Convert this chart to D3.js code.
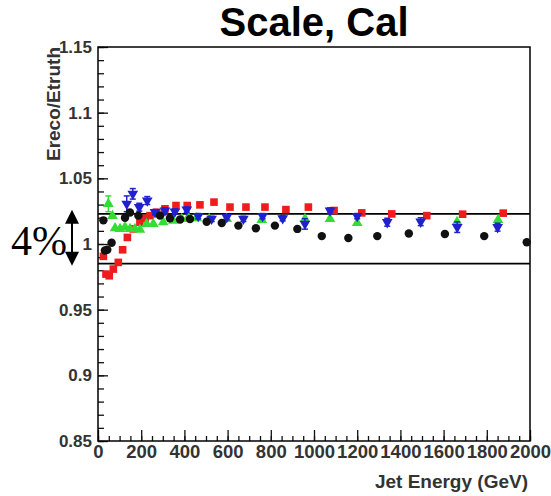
<!DOCTYPE html>
<html lang="en">
<head>
  <meta charset="UTF-8">
  <title>Scale, Cal</title>
  <script src="https://d3js.org/d3.v7.min.js"></script>
  <style>
    body, html {
      margin: 0;
      padding: 0;
      background: #fff;
    }
    svg {
      display: block;
    }
    .tick text {
      font-family: "Liberation Sans", Arial, sans-serif;
      font-size: 17px;
      font-weight: bold;
      fill: #333;
    }
    .x-axis .tick text {
      font-size: 18.5px;
    }
    .axis-title {
      font-family: "Liberation Sans", Arial, sans-serif;
      font-size: 19px;
      font-weight: bold;
      fill: #333;
    }
    .title {
      font-family: "Liberation Sans", Arial, sans-serif;
      font-size: 40px;
      font-weight: bold;
      fill: #000;
    }
    .note {
      font-family: "Liberation Serif", "Times New Roman", serif;
      font-size: 42px;
      fill: #000;
    }
  </style>
</head>
<body>
  <svg width="551" height="496"></svg>

  <script>
    // black circles
    const blackE = [25, 32, 43, 63, 125, 148, 187, 287, 333, 380, 426, 503, 573, 650, 731, 819, 923, 1036, 1159, 1293, 1439, 1606, 1788, 1985];
    const blackR = [1.018, 0.995, 0.9956, 1.001, 1.020, 1.024, 1.0216, 1.0216, 1.0196, 1.0186, 1.019, 1.017, 1.016, 1.014, 1.012, 1.014, 1.0115, 1.006, 1.0046, 1.006, 1.008, 1.0076, 1.006, 1.0013];

    // red squares
    const redE = [25, 37, 52, 71, 94, 114, 136, 163, 194, 218, 241, 272, 310, 361, 413, 472, 537, 611, 685, 773, 870, 974, 1093, 1221, 1360, 1522, 1688, 1876];
    const redR = [0.9906, 0.9771, 0.9758, 0.9809, 0.986, 0.9956, 1.005, 1.0115, 1.0166, 1.0196, 1.0216, 1.0242, 1.0268, 1.0293, 1.0293, 1.0298, 1.0319, 1.0281, 1.0281, 1.0281, 1.0262, 1.0281, 1.0255, 1.0237, 1.0229, 1.0216, 1.0227, 1.0235];

    // green triangles (up)
    const greenE = [48, 67, 79, 102, 125, 148, 171, 194, 225, 256, 302, 349, 388, 418, 457, 515, 596, 758, 958, 1074, 1200, 1662, 1852];
    const greenR = [1.0306, 1.0214, 1.012, 1.0115, 1.0128, 1.0115, 1.0115, 1.0109, 1.0153, 1.0153, 1.0166, 1.0178, 1.0191, 1.0204, 1.0196, 1.0191, 1.0191, 1.0183, 1.0191, 1.0191, 1.016, 1.0168, 1.0183];
    const greenErr = [0.006, 0, 0, 0, 0, 0, 0, 0, 0, 0, 0, 0, 0, 0, 0, 0, 0, 0, 0, 0, 0, 0, 0];

    // blue triangles (down)
    const blueE = [133, 161, 191, 228, 264, 310, 356, 411, 464, 526, 596, 673, 762, 855, 958, 1074, 1200, 1339, 1494, 1663, 1850];
    const blueR = [1.0306, 1.0382, 1.028, 1.0331, 1.0242, 1.0255, 1.0247, 1.0262, 1.0212, 1.0191, 1.0204, 1.0191, 1.0212, 1.0196, 1.0153, 1.0255, 1.0212, 1.0166, 1.017, 1.0128, 1.0128];
    const blueErr = [0.006, 0.004, 0.003, 0.003, 0.002, 0.002, 0.002, 0.002, 0.002, 0.002, 0.002, 0.002, 0.002, 0.002, 0.004, 0.002, 0.002, 0.003, 0.003, 0.004, 0.003];

    // the band lines
    const bandLines = [1.023, 0.985];

    const xTicks = [0, 200, 400, 600, 800, 1000, 1200, 1400, 1600, 1800, 2000];
    const yTicks = [0.85, 0.9, 0.95, 1, 1.05, 1.1, 1.15];

    const plotL = 98, plotR = 530, plotT = 47, plotB = 441;

    const svg = d3.select("svg");

    const x = d3.scaleLinear().domain([0, 2000]).range([plotL, plotR]);
    const y = d3.scaleLinear().domain([0.85, 1.15]).range([plotB, plotT]);

    // title
    svg.append("text")
      .attr("class", "title")
      .attr("x", 314)
      .attr("y", 36)
      .attr("text-anchor", "middle")
      .text("Scale, Cal");

    // minor ticks
    svg.append("g")
      .attr("transform", `translate(0,${plotB})`)
      .call(d3.axisBottom(x).tickValues(d3.range(0, 2001, 50)).tickSize(-5).tickFormat(""))
      .call(g => g.select(".domain").remove());
    svg.append("g")
      .attr("transform", `translate(${plotL},0)`)
      .call(d3.axisLeft(y).tickValues(d3.range(0, 31).map(i => 0.85 + i * 0.01)).tickSize(-6).tickFormat(""))
      .call(g => g.select(".domain").remove());

    // major ticks + labels
    svg.append("g")
      .attr("class", "x-axis")
      .attr("transform", `translate(0,${plotB})`)
      .call(d3.axisBottom(x).tickValues(xTicks).tickSize(-11).tickPadding(4).tickFormat(d3.format("d")))
      .call(g => g.select(".domain").remove());
    svg.append("g")
      .attr("transform", `translate(${plotL},0)`)
      .call(d3.axisLeft(y).tickValues(yTicks).tickSize(-10).tickPadding(6).tickFormat(d => String(+d.toFixed(2))))
      .call(g => g.select(".domain").remove());

    svg.selectAll(".tick line").attr("stroke", "#111").attr("stroke-width", 1.3);

    // frame
    svg.append("rect")
      .attr("x", plotL)
      .attr("y", plotT)
      .attr("width", plotR - plotL)
      .attr("height", plotB - plotT)
      .attr("fill", "none")
      .attr("stroke", "#000")
      .attr("stroke-width", 1.5);

    // axis titles
    svg.append("text")
      .attr("class", "axis-title")
      .attr("x", 528)
      .attr("y", 488)
      .attr("text-anchor", "end")
      .text("Jet Energy (GeV)");

    svg.append("text")
      .attr("class", "axis-title")
      .attr("transform", `translate(60,${plotT}) rotate(-90)`)
      .attr("text-anchor", "end")
      .text("Ereco/Etruth");

    // band lines
    svg.selectAll(".band")
      .data(bandLines)
      .enter().append("line")
      .attr("class", "band")
      .attr("x1", plotL)
      .attr("x2", plotR)
      .attr("y1", d => y(d))
      .attr("y2", d => y(d))
      .attr("stroke", "#000")
      .attr("stroke-width", 1.8);

    // series
    function drawSeries(es, rs, errs, symbolType, size, rot, color) {
      const pts = es.map((e, i) => ({ e: e, r: rs[i], err: errs ? errs[i] : 0 }));
      const g = svg.append("g");
      const withErr = pts.filter(d => d.err > 0);
      g.selectAll(".err")
        .data(withErr)
        .enter().append("line")
        .attr("x1", d => x(d.e))
        .attr("x2", d => x(d.e))
        .attr("y1", d => y(d.r - d.err))
        .attr("y2", d => y(d.r + d.err))
        .attr("stroke", color)
        .attr("stroke-width", 1.5);
      g.selectAll(".cap")
        .data(withErr.flatMap(d => [d.r - d.err, d.r + d.err].map(v => ({ e: d.e, v: v }))))
        .enter().append("line")
        .attr("x1", d => x(d.e) - 3)
        .attr("x2", d => x(d.e) + 3)
        .attr("y1", d => y(d.v))
        .attr("y2", d => y(d.v))
        .attr("stroke", color)
        .attr("stroke-width", 1.5);
      g.selectAll(".pt")
        .data(pts)
        .enter().append("path")
        .attr("d", d3.symbol().type(symbolType).size(size))
        .attr("transform", d => `translate(${x(d.e)},${y(d.r)}) rotate(${rot})`)
        .attr("fill", color);
    }

    drawSeries(redE, redR, null, d3.symbolSquare, 58, 0, "#ee1c1c");
    drawSeries(greenE, greenR, greenErr, d3.symbolTriangle, 50, 0, "#33dd33");
    drawSeries(blueE, blueR, blueErr, d3.symbolTriangle, 50, 180, "#2020cc");
    drawSeries(blackE, blackR, null, d3.symbolCircle, 56, 0, "#111");

    // 4% annotation
    svg.append("text")
      .attr("class", "note")
      .attr("x", 11)
      .attr("y", 255)
      .text("4%");

    const ax = 72, ay1 = y(bandLines[0]) - 4, ay2 = y(bandLines[1]) + 2;
    svg.append("line")
      .attr("x1", ax).attr("x2", ax)
      .attr("y1", ay1 + 10).attr("y2", ay2 - 10)
      .attr("stroke", "#000").attr("stroke-width", 2);
    svg.append("path")
      .attr("d", `M${ax},${ay1} L${ax - 7},${ay1 + 14} L${ax + 7},${ay1 + 14} Z`)
      .attr("fill", "#000");
    svg.append("path")
      .attr("d", `M${ax},${ay2} L${ax - 7},${ay2 - 14} L${ax + 7},${ay2 - 14} Z`)
      .attr("fill", "#000");
  </script>
</body>
</html>
